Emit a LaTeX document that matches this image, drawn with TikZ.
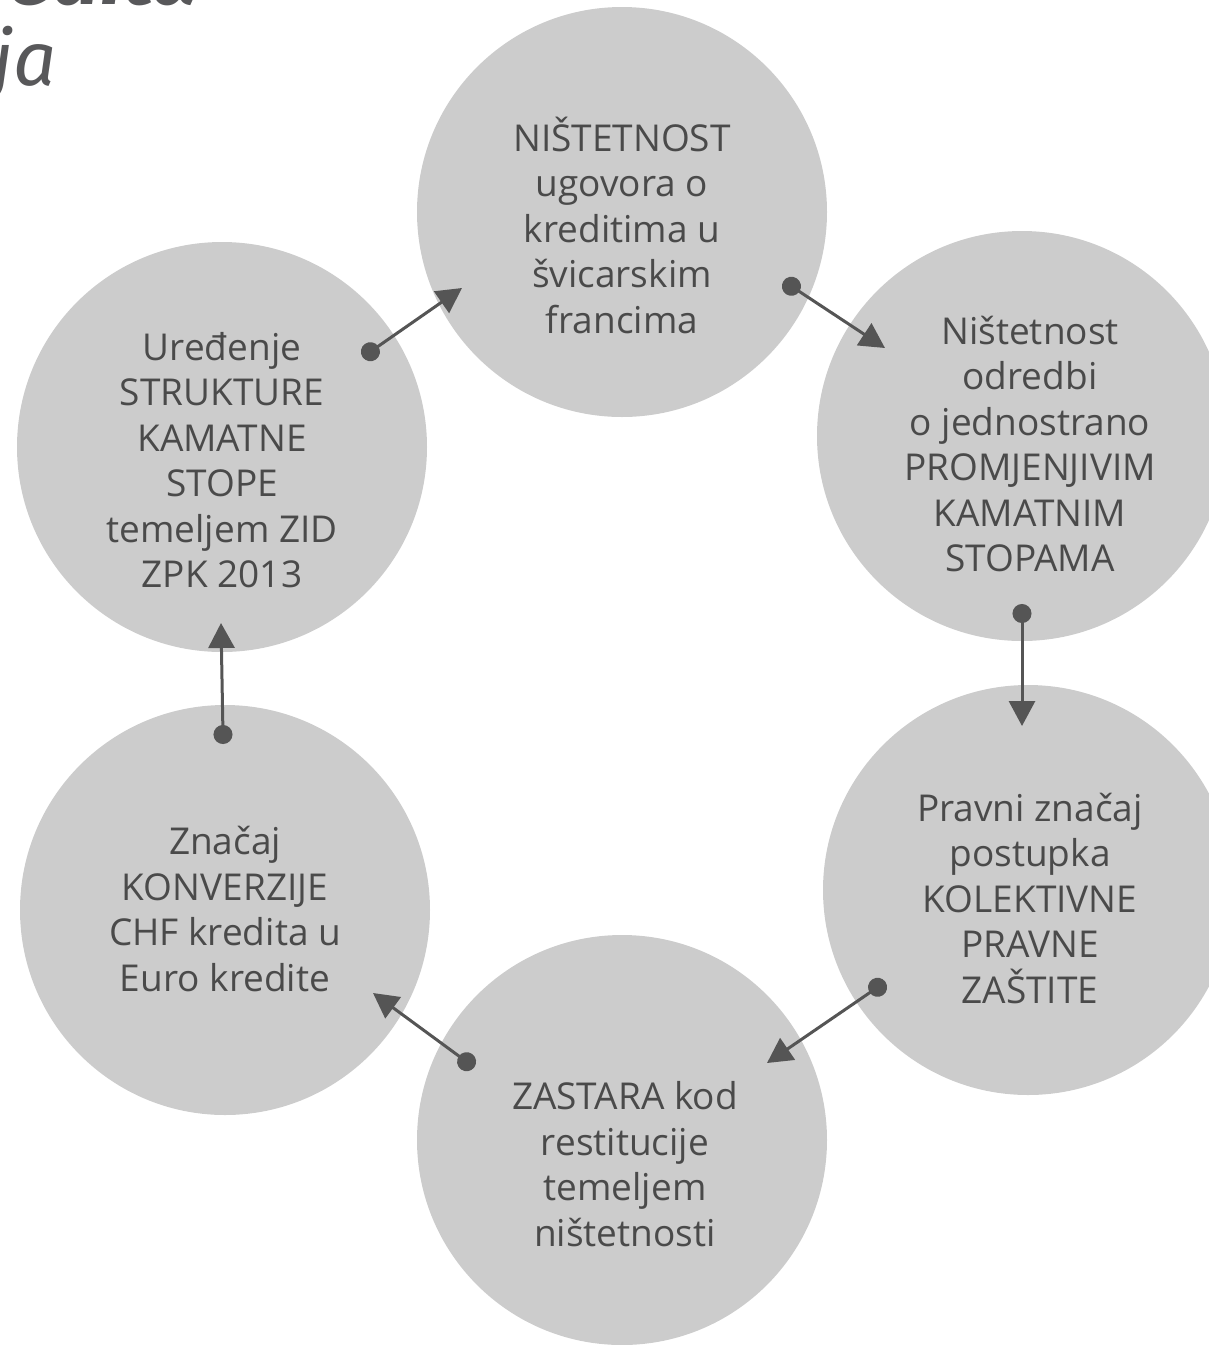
\documentclass[tikz,border=0pt]{standalone}
\usepackage{fontspec}
\setmainfont{Open Sans}
\newfontfamily\titlefont{Fira Sans}
\usetikzlibrary{arrows.meta}
\definecolor{circfill}{HTML}{CCCCCC}
\definecolor{arrowc}{HTML}{555555}
\definecolor{txtc}{HTML}{4A4A4A}
\definecolor{titlec}{HTML}{58585A}
\tikzset{
  circ/.style={circle, fill=circfill, draw=none, minimum size=410pt, inner sep=0pt},
  lbl/.style={align=center, text=txtc, inner sep=0pt, font=\fontsize{37}{45.5}\selectfont},
  conn/.style={draw=arrowc, line width=3pt, {Circle[length=19pt]}-{Triangle[length=25pt,width=26pt]}, shorten <=-9pt},
  title/.style={text=titlec, inner sep=0pt, anchor=base west}
}
\begin{document}
\begin{tikzpicture}[x=1pt,y=-1pt]
\useasboundingbox (0,0) rectangle (1209,1345);
\clip (0,0) rectangle (1209,1345);
% title fragments
\node[title, anchor=base east, font=\titlefont\fontsize{82}{90}\selectfont\bfseries\itshape] (t1) at (199,4) {redita};
\node[title, font=\titlefont\fontsize{76}{90}\selectfont\itshape] (t2) at (-8,85) {ja};
% circles
\node[circ] (c1) at (622,212) {};
\node[circ] (c2) at (1022,436) {};
\node[circ] (c3) at (1028,890) {};
\node[circ] (c4) at (622,1140) {};
\node[circ] (c5) at (225,910) {};
\node[circ] (c6) at (222,447) {};
% labels
\node[lbl] (l1) at (622,225) {NIŠTETNOST\\ugovora o\\kreditima u\\švicarskim\\francima};
\node[lbl] (l2) at (1030,444) {Ništetnost\\odredbi\\o jednostrano\\PROMJENJIVIM\\KAMATNIM\\STOPAMA};
\node[lbl] (l3) at (1030,898) {Pravni značaj\\postupka\\KOLEKTIVNE\\PRAVNE\\ZAŠTITE};
\node[lbl] (l4) at (625,1164) {ZASTARA kod\\restitucije\\temeljem\\ništetnosti};
\node[lbl] (l5) at (225,909) {Značaj\\KONVERZIJE\\CHF kredita u\\Euro kredite};
\node[lbl] (l6) at (222,460) {Uređenje\\STRUKTURE\\KAMATNE\\STOPE\\temeljem ZID\\ZPK 2013};
% connector end points
\coordinate (a1s) at (370,352); \coordinate (a1e) at (462,288);
\coordinate (a2s) at (791,286); \coordinate (a2e) at (885,348);
\coordinate (a3s) at (1022,613); \coordinate (a3e) at (1022,726);
\coordinate (a4s) at (878,987); \coordinate (a4e) at (767,1063);
\coordinate (a5s) at (467,1062); \coordinate (a5e) at (373,993);
\coordinate (a6s) at (223,735); \coordinate (a6e) at (221,623);
\draw[conn] (a1s) -- (a1e);
\draw[conn] (a2s) -- (a2e);
\draw[conn] (a3s) -- (a3e);
\draw[conn] (a4s) -- (a4e);
\draw[conn] (a5s) -- (a5e);
\draw[conn] (a6s) -- (a6e);
\end{tikzpicture}
\end{document}
